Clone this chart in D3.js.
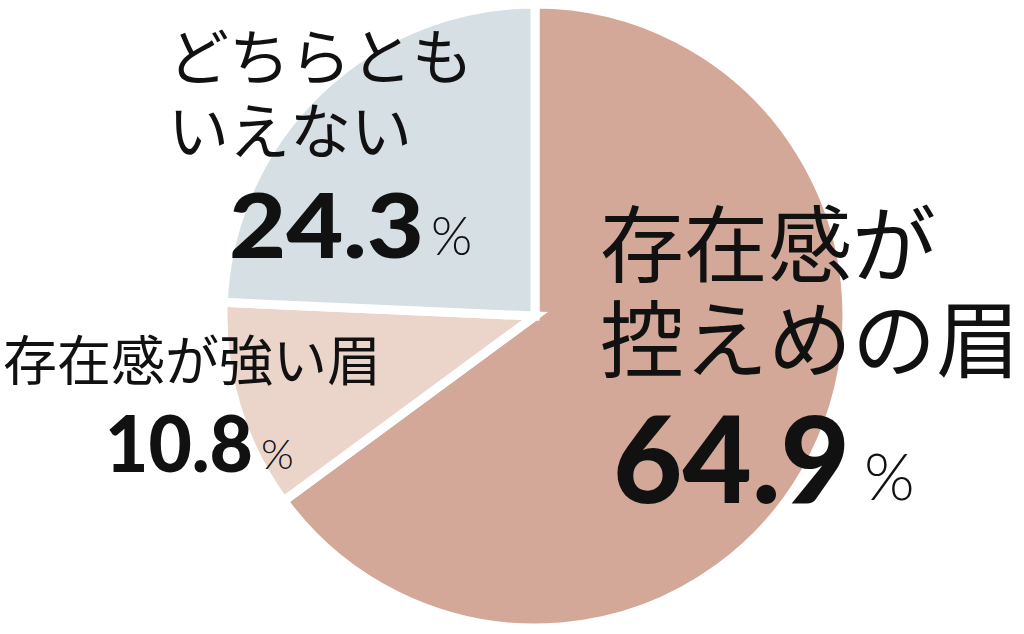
<!DOCTYPE html>
<html>
<head>
<meta charset="utf-8">
<script src="https://cdn.jsdelivr.net/npm/d3@7"></script>
<style>
  html, body { margin: 0; padding: 0; background: #fff; }
</style>
</head>
<body>
<script>
// data
var categories = ['存在感が控えめの眉', '存在感が強い眉', 'どちらともいえない'];
var values = [64.9, 10.8, 24.3];
var labelLines = [['存在感が', '控えめの眉'], ['存在感が強い眉'], ['どちらとも', 'いえない']];
var colors = ['#d4a898', '#ebd5cb', '#d5dfe4'];

// label layout (x, baselines, font sizes) per slice
var layout = [
  { x: 600, lines: [276, 371], fs: 84, nx: 613, ny: 503, nfs: 120, nw: 237, px: 864, pfs: 65 },
  { x: 3, lines: [381], fs: 54, nx: 105, ny: 472, nfs: 79, nw: 148, px: 261, pfs: 42 },
  { x: 168, lines: [80, 154], fs: 61, nx: 229, ny: 258, nfs: 90, nw: 195, px: 431, pfs: 53 }
];

var width = 1024, height = 634;
var cx = 535, cy = 316, radius = 312;

var svg = d3.select('body').append('svg')
  .attr('width', width)
  .attr('height', height);

var pie = d3.pie().sort(null).value(function (d) { return d; });
var arc = d3.arc().innerRadius(0).outerRadius(radius);

var g = svg.append('g').attr('transform', 'translate(' + cx + ',' + cy + ')');

g.selectAll('path')
  .data(pie(values))
  .enter().append('path')
  .attr('d', arc)
  .attr('fill', function (d, i) { return colors[i]; })
  .attr('stroke', '#fff')
  .attr('stroke-width', 9)
  .attr('stroke-linejoin', 'miter');

// labels
categories.forEach(function (c, i) {
  var L = layout[i];
  labelLines[i].forEach(function (t, j) {
    svg.append('text')
      .attr('x', L.x)
      .attr('y', L.lines[j])
      .attr('font-family', '"Noto Sans CJK JP", sans-serif')
      .attr('font-size', L.fs)
      .attr('fill', '#111')
      .text(t);
  });
  svg.append('text')
    .attr('x', L.nx)
    .attr('y', L.ny)
    .attr('font-family', 'Lato, sans-serif')
    .attr('font-weight', 900)
    .attr('font-size', L.nfs)
    .attr('textLength', L.nw)
    .attr('lengthAdjust', 'spacingAndGlyphs')
    .attr('fill', '#111')
    .text(d3.format('.1f')(values[i]));
  svg.append('text')
    .attr('x', L.px)
    .attr('y', L.ny - 3)
    .attr('font-family', 'Lato, sans-serif')
    .attr('font-weight', 300)
    .attr('font-size', L.pfs)
    .attr('fill', '#111')
    .text('%');
});
</script>
</body>
</html>
